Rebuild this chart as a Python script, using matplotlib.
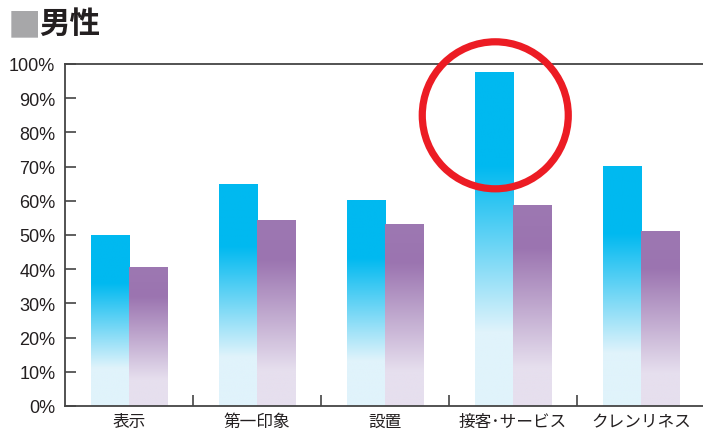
import numpy as np
import matplotlib
matplotlib.use("Agg")
import matplotlib.pyplot as plt
from matplotlib.colors import LinearSegmentedColormap
from matplotlib.patches import Ellipse

plt.rcParams['font.family'] = ['Noto Sans CJK JP', 'DejaVu Sans']

categories = ['表示', '第一印象', '設置', '接客･サービス', 'クレンリネス']
blue_vals = [50.0, 64.9, 60.2, 97.4, 69.9]
purple_vals = [40.6, 54.1, 53.2, 58.5, 50.9]
yticks = list(range(0, 101, 10))
ytick_labels = ['%d%%' % v for v in yticks]
title = '男性'
highlight = 3  # 接客・サービス

# gradients: bottom light -> top solid (fraction of each bar's height)
blue_cmap = LinearSegmentedColormap.from_list(
    'b', [(0.0, '#e0f3fb'), (0.22, '#e0f3fb'), (0.72, '#00b9f0'), (1.0, '#00b9f0')])
purple_cmap = LinearSegmentedColormap.from_list(
    'p', [(0.0, '#e6dfee'), (0.19, '#e6dfee'), (0.79, '#9b74b0'), (1.0, '#9d78b2')])

fig = plt.figure(figsize=(7.03, 4.35), dpi=100)
ax = fig.add_axes([65 / 703, 28 / 435, 640 / 703, 342 / 435])

w = 0.297
grad = np.linspace(0, 1, 256).reshape(-1, 1)
x = np.arange(len(categories))
for i in x:
    for val, cmap, off in ((blue_vals[i], blue_cmap, -w), (purple_vals[i], purple_cmap, 0)):
        ax.imshow(grad, cmap=cmap, origin='lower', aspect='auto',
                  extent=(i + off, i + off + w, 0, val), interpolation='bilinear', zorder=2)

# red circle around highlighted bar
circ = Ellipse((highlight - w / 2 + 0.01, 85.0), width=146 / 128, height=147 / 342 * 100,
               fill=False, edgecolor='#ec1c24', linewidth=5.2, clip_on=False, zorder=5)
ax.add_patch(circ)

ax.set_xlim(-0.5, len(categories) - 0.5)
ax.set_ylim(0, 100)
ax.set_yticks(yticks)
ax.set_yticklabels(ytick_labels, fontsize=13, color='#231f20', family=['Liberation Sans', 'DejaVu Sans'])
ax.set_xticks(x)
ax.set_xticklabels(categories, fontsize=12, color='#231f20')
ax.set_xticks(np.arange(0.5, len(categories) - 1, 1), minor=True)
ax.tick_params(axis='x', which='major', length=0, pad=5)
ax.tick_params(axis='x', which='minor', direction='in', length=8, width=1.2, color='#444444')
ax.tick_params(axis='y', direction='in', length=8, width=1.2, color='#444444', pad=7)

for s in ('left', 'top', 'bottom'):
    ax.spines[s].set_color('#444444')
    ax.spines[s].set_linewidth(1.3)
ax.spines['right'].set_visible(False)

fig.text(8 / 703, 1 - 27 / 435, '■', fontsize=24, color='#a7a7a9', va='center', ha='left')
fig.text(39 / 703, 1 - 24 / 435, title, fontsize=22, color='#231f20', va='center', ha='left',
         fontweight='bold')

fig.savefig('out.png', dpi=100)
